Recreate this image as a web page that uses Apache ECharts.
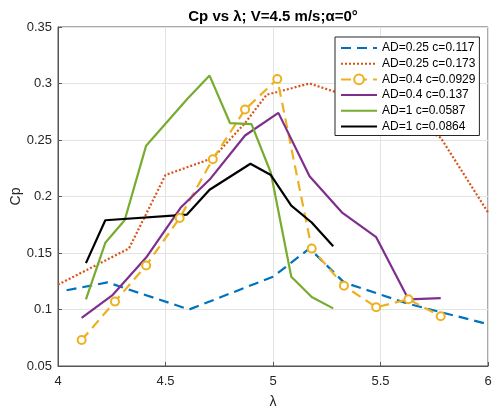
<!DOCTYPE html>
<html>
<head>
<meta charset="utf-8">
<script src="https://cdn.jsdelivr.net/npm/echarts@6/dist/echarts.min.js"></script>
<style>
html,body{margin:0;padding:0;background:#fff;}
#chart{width:492px;height:409px;}
</style>
</head>
<body>
<div id="chart"></div>
<script>
// Data
const titleText = 'Cp vs \u03bb; V=4.5 m/s;\u03b1=0\u00b0';
const xTicks = [4, 4.5, 5, 5.5, 6];
const yTicks = [0.05, 0.1, 0.15, 0.2, 0.25, 0.3, 0.35];
const seriesNames = ['AD=0.25 c=0.117', 'AD=0.25 c=0.173', 'AD=0.4 c=0.0929', 'AD=0.4 c=0.137', 'AD=1 c=0.0587', 'AD=1 c=0.0864'];

const lamA = [4.04, 4.23, 4.61, 5.0, 5.17, 5.33, 5.63, 6.0];
const cpA  = [0.117, 0.124, 0.100, 0.129, 0.154, 0.124, 0.105, 0.087];

const lamB = [4.0, 4.33, 4.5, 4.72, 4.87, 4.97, 5.17, 5.33, 5.5, 5.63, 5.78, 6.0];
const cpB  = [0.122, 0.154, 0.219, 0.234, 0.265, 0.290, 0.300, 0.290, 0.280, 0.268, 0.252, 0.186];

const lamC = [4.11, 4.265, 4.41, 4.566, 4.72, 4.87, 5.02, 5.18, 5.33, 5.48, 5.63, 5.78];
const cpC  = [0.073, 0.107, 0.139, 0.181, 0.233, 0.277, 0.304, 0.154, 0.121, 0.102, 0.109, 0.094];

const lamD = [4.11, 4.255, 4.41, 4.57, 4.71, 4.87, 5.025, 5.17, 5.32, 5.48, 5.63, 5.78];
const cpD  = [0.0925, 0.113, 0.146, 0.190, 0.216, 0.254, 0.274, 0.218, 0.186, 0.164, 0.109, 0.110];

const lamE = [4.13, 4.22, 4.31, 4.41, 4.60, 4.705, 4.80, 4.90, 4.99, 5.085, 5.18, 5.28];
const cpE  = [0.109, 0.159, 0.179, 0.245, 0.286, 0.307, 0.265, 0.264, 0.221, 0.129, 0.111, 0.101];

const lamF = [4.13, 4.22, 4.60, 4.705, 4.895, 4.99, 5.085, 5.18, 5.28];
const cpF  = [0.141, 0.179, 0.184, 0.206, 0.229, 0.219, 0.192, 0.177, 0.156];

const colors = ['#0072BD', '#D95319', '#EDB120', '#7E2F8E', '#77AC30', '#000000'];
const hasMarker = [false, false, true, false, false, false];

function pairs(xs, ys) { return xs.map((x, i) => [x, ys[i]]); }

const FONT = '"Liberation Sans", Arial, Helvetica, sans-serif';
const axisColor = '#555555';
const textColor = '#262626';

function mkSeries(name, xs, ys, color, dash, sym) {
  const hasSym = !!sym;
  return {
    name: name,
    type: 'line',
    data: pairs(xs, ys),
    symbol: hasSym ? 'circle' : 'none',
    symbolSize: 8,
    showSymbol: hasSym,
    showAllSymbol: true,
    itemStyle: { color: hasSym ? '#ffffff' : color, borderColor: color, borderWidth: 2 },
    lineStyle: { color: color, width: 2.2, type: dash || 'solid' },
    emphasis: { disabled: true },
    z: 2
  };
}

const legendData = seriesNames.map((n, i) => hasMarker[i]
  ? { name: n, itemStyle: { color: '#ffffff', borderColor: colors[i], borderWidth: 2 } }
  : { name: n, itemStyle: { color: 'rgba(0,0,0,0)', borderColor: 'rgba(0,0,0,0)', borderWidth: 0, opacity: 0 } });

const chart = echarts.init(document.getElementById('chart'), null, { renderer: 'canvas' });
chart.setOption({
  animation: false,
  backgroundColor: '#fff',
  textStyle: { fontFamily: FONT },
  grid: { left: 58, right: 4, top: 27, bottom: 43, show: true, borderColor: axisColor, borderWidth: 1, containLabel: false, outerBoundsMode: 'none' },
  graphic: [{
    type: 'text', x: 273, y: 17, z: 10,
    style: { text: titleText, font: 'bold 15px ' + FONT, fill: '#000', textAlign: 'center', textVerticalAlign: 'middle' }
  }],
  legend: {
    orient: 'vertical', left: 335, top: 37,
    padding: [5, 4, 3, 5],
    itemWidth: 36, itemHeight: 12, itemGap: 3.7,
    backgroundColor: '#fff', borderColor: '#262626', borderWidth: 1,
    textStyle: { fontFamily: FONT, fontSize: 12, color: '#000' },
    data: legendData
  },
  xAxis: {
    type: 'value', min: xTicks[0], max: xTicks[xTicks.length - 1], interval: 0.5,
    name: '\u03bb', nameLocation: 'middle', nameGap: 29,
    nameTextStyle: { fontFamily: FONT, fontSize: 14, color: textColor },
    axisLine: { show: true, lineStyle: { color: axisColor } },
    axisTick: { show: true, inside: true, length: 4, lineStyle: { color: axisColor } },
    axisLabel: { fontFamily: FONT, fontSize: 13, color: textColor, margin: 9, formatter: v => String(+(+v).toFixed(2)) },
    splitLine: { show: true, lineStyle: { color: '#e3e3e3', width: 1 } }
  },
  yAxis: {
    type: 'value', min: yTicks[0], max: yTicks[yTicks.length - 1], interval: 0.05,
    name: 'Cp', nameLocation: 'middle', nameGap: 35, nameMoveOverlap: false,
    nameTextStyle: { fontFamily: FONT, fontSize: 14, color: textColor },
    axisLine: { show: true, lineStyle: { color: axisColor } },
    axisTick: { show: true, inside: true, length: 4, lineStyle: { color: axisColor } },
    axisLabel: { fontFamily: FONT, fontSize: 13, color: textColor, margin: 6, formatter: v => String(+(+v).toFixed(2)) },
    splitLine: { show: true, lineStyle: { color: '#e3e3e3', width: 1 } }
  },
  series: [
    mkSeries(seriesNames[0], lamA, cpA, colors[0], [10, 6]),
    mkSeries(seriesNames[1], lamB, cpB, colors[1], [2, 2]),
    mkSeries(seriesNames[2], lamC, cpC, colors[2], [10, 6], hasMarker[2]),
    mkSeries(seriesNames[3], lamD, cpD, colors[3]),
    mkSeries(seriesNames[4], lamE, cpE, colors[4]),
    mkSeries(seriesNames[5], lamF, cpF, colors[5])
  ]
});
</script>
</body>
</html>
